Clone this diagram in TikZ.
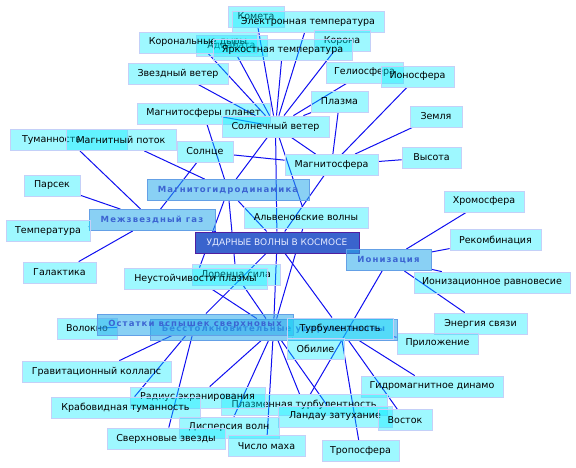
\documentclass[tikz,border=0pt]{standalone}
\usepackage{fontspec}
\setmainfont{DejaVu Sans}
\newfontfamily\catfont[LetterSpace=13]{DejaVu Sans}
\usetikzlibrary{backgrounds}

\definecolor{topicfill}{RGB}{0,236,255}
\definecolor{topicline}{RGB}{196,208,248}
\definecolor{catfill}{RGB}{40,170,235}
\definecolor{catline}{RGB}{100,160,230}
\definecolor{cattext}{RGB}{60,100,210}
\definecolor{rootfill}{RGB}{58,100,205}
\definecolor{rootline}{RGB}{80,30,160}
\definecolor{roottext}{RGB}{228,234,255}
\definecolor{linkblue}{RGB}{15,15,240}

\begin{document}
\begin{tikzpicture}[x=1pt,y=-1pt,
  topic/.style={draw=topicline,line width=0.8pt,fill=topicfill,fill opacity=0.38,text opacity=1,
    minimum height=21pt,inner sep=1pt,font=\fontsize{9.5}{10}\selectfont},
  cat/.style={draw=catline,line width=0.8pt,fill=catfill,fill opacity=0.55,text opacity=1,
    text=cattext,minimum height=21pt,inner sep=1pt,font=\catfont\bfseries\fontsize{8.5}{10}\selectfont},
  root/.style={draw=rootline,line width=1pt,fill=rootfill,text=roottext,
    minimum height=21pt,inner sep=1pt,font=\fontsize{9}{10}\selectfont},
  wd/.style={minimum width=#1pt},
  link/.style={draw=linkblue,line width=1pt}]
  \useasboundingbox (0,0) rectangle (576,467);

  % --- top: solar wind ---
  \node[topic,wd=56] (komet) at (256,16.5) {Комета};
  \node[topic,wd=152] (eltemp) at (308,21.5) {Электронная температура};
  \node[topic,wd=71] (adiab) at (231.5,45.5) {Адиабата};
  \node[topic,wd=118] (kordyr) at (198,42.5) {Корональные дыры};
  \node[topic,wd=56] (korona) at (342,41) {Корона};
  \node[topic,wd=139] (yarktemp) at (282.5,50) {Яркостная температура};
  \node[topic,wd=100] (zvveter) at (178,73.5) {Звездный ветер};
  \node[topic,wd=77] (gelio) at (364.5,72.5) {Гелиосфера};
  \node[topic,wd=73] (iono) at (417.5,76.5) {Ионосфера};
  \node[topic,wd=57] (plazma) at (339.5,101.5) {Плазма};
  \node[topic,wd=133] (magplan) at (203.5,113.5) {Магнитосферы планет};
  \node[topic,wd=107] (solvet) at (275.5,126.5) {Солнечный ветер};
  \node[topic,wd=52] (zemlya) at (436,116.5) {Земля};
  \node[topic,wd=59] (vysota) at (431.5,157.5) {Высота};
  \node[topic,wd=93] (magsf) at (331.5,165) {Магнитосфера};

  % --- left: interstellar gas ---
  \node[topic,text width=93pt,align=left,inner xsep=12pt] (tuman) at (68.5,140) {Туманность};
  \node[topic,wd=110] (magpot) at (121,140) {Магнитный поток};
  \node[topic,wd=56] (solnce) at (205,152) {Солнце};
  \node[cat,wd=162] (mgd) at (228,190) {Магнитогидродинамика};
  \node[topic,wd=56] (parsek) at (52,185.5) {Парсек};
  \node[cat,wd=126] (mezhgaz) at (152,220) {Межзвездный газ};
  \node[topic,wd=84] (temper) at (48,231) {Температура};
  \node[topic,wd=73] (galakt) at (59.5,272.5) {Галактика};
  \node[topic,wd=88] (lorenz) at (236,275) {Лоренца сила};
  \node[topic,wd=143] (neust) at (195.5,278.5) {Неустойчивости плазмы};

  % --- centre ---
  \node[root,wd=164] (root) at (277,242.5) {УДАРНЫЕ ВОЛНЫ В КОСМОСЕ};
  \node[topic,wd=124] (alfven) at (306,217.5) {Альвеновские волны};

  % --- right: ionisation ---
  \node[cat,wd=85] (ioniz) at (388.5,260) {Ионизация};
  \node[topic,wd=80] (hromo) at (484,201.5) {Хромосфера};
  \node[topic,wd=91] (rekomb) at (495.5,240) {Рекомбинация};
  \node[topic,wd=156] (ionrav) at (492,282.5) {Ионизационное равновесие};
  \node[topic,wd=93] (energ) at (480.5,323.5) {Энергия связи};
  \node[topic,wd=81] (prilozh) at (437.5,343.5) {Приложение};

  % --- bottom ---
  \node[topic,wd=60] (volokno) at (87,328.5) {Волокно};
  \node[cat,wd=247] (besst) at (273.5,329.5) {Бесстолкновительные ударные волны};
  \node[cat,wd=196] (ostatki) at (195,324.5) {Остатки вспышек сверхновых};
  \node[topic,wd=106] (turb) at (340,328.5) {Турбулентность};
  \node[topic,wd=57] (obilie) at (315.5,349) {Обилие};
  \node[topic,wd=149] (gravkol) at (96.5,371.5) {Гравитационный коллапс};
  \node[topic,wd=142] (gidrodin) at (432,386.5) {Гидромагнитное динамо};
  \node[topic,wd=166] (plturb) at (304,405) {Плазменная турбулентность};
  \node[topic,wd=114] (landau) at (335,416.5) {Ландау затухание};
  \node[topic,wd=135] (radius) at (197.5,397.5) {Радиус экранирования};
  \node[topic,wd=149] (krab) at (125.5,407.5) {Крабовидная туманность};
  \node[topic,wd=54] (vostok) at (405,420) {Восток};
  \node[topic,wd=100] (dispers) at (229,427.5) {Дисперсия волн};
  \node[topic,wd=118] (sverh) at (166,438.5) {Сверхновые звезды};
  \node[topic,wd=77] (mach) at (266.5,446) {Число маха};
  \node[topic,wd=77] (tropo) at (360.5,451) {Тропосфера};

  % links
  \begin{pgfonlayer}{background}
    \foreach \t in {komet,eltemp,kordyr,adiab,yarktemp,korona,zvveter,gelio,plazma,magplan,magsf,root,mgd,alfven}
      \draw[link] (solvet) -- (\t);
    \foreach \t in {plazma,iono,zemlya,vysota,solnce,root}
      \draw[link] (magsf) -- (\t);
    \foreach \t in {magpot,magplan,neust,lorenz,root}
      \draw[link] (mgd) -- (\t);
    \foreach \t in {tuman,parsek,solnce,temper,galakt,root}
      \draw[link] (mezhgaz) -- (\t);
    \foreach \t in {hromo,rekomb,ionrav,energ,plturb,root}
      \draw[link] (ioniz) -- (\t);
    \foreach \t in {volokno,gravkol,krab,sverh,root}
      \draw[link] (ostatki) -- (\t);
    \foreach \t in {radius,dispers,mach,plturb,landau,obilie,neust,lorenz,alfven,root}
      \draw[link] (besst) -- (\t);
    \foreach \t in {root,gidrodin,vostok,tropo,prilozh}
      \draw[link] (turb) -- (\t);
  \end{pgfonlayer}
\end{tikzpicture}
\end{document}
